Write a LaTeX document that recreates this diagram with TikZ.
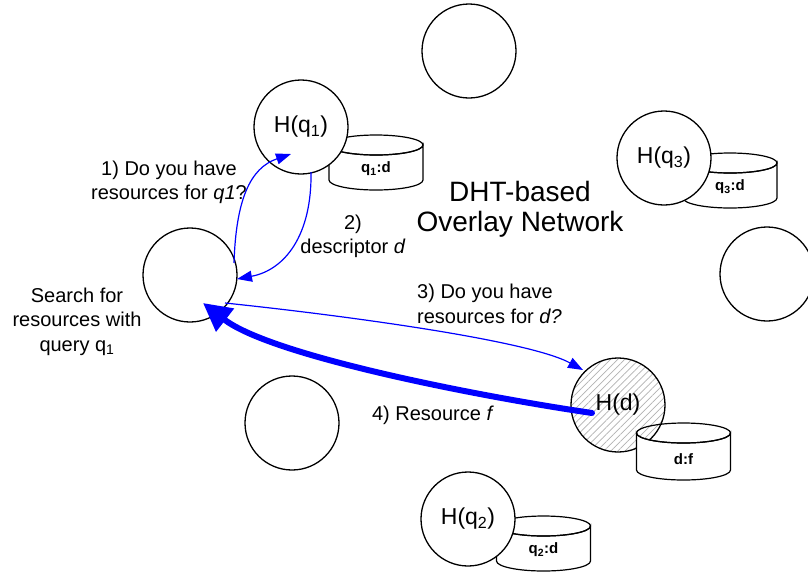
\documentclass[tikz,border=0pt]{standalone}
\usepackage{fontspec}
\setmainfont{Liberation Sans}
\usetikzlibrary{arrows.meta,patterns.meta,calc}
\newcommand\dbcyl[5]{%
  \path[cyl] (#1-47,#2) -- (#1-47,#3) arc[start angle=180,end angle=0,x radius=47,y radius=10]
     -- (#1+47,#2) arc[start angle=0,end angle=180,x radius=47,y radius=10] -- cycle;
  \draw[line width=1.2pt] (#1,#2) ellipse[x radius=47,y radius=10];
  \node[cyllbl] (#5) at (#1,#3-11) {#4};}
\begin{document}
\begin{tikzpicture}[x=1pt,y=-1pt,
  peer/.style={circle,draw,line width=1.3pt,fill=white,minimum size=94pt,inner sep=0pt,font=\fontsize{23}{26}\selectfont},
  lbl/.style={inner sep=0pt,align=center,font=\fontsize{20}{24.5}\selectfont},
  cyl/.style={draw,line width=1.2pt,fill=white},
  cyllbl/.style={inner sep=0pt,font=\fontsize{15}{18}\selectfont\bfseries},
  query/.style={draw=blue,line width=1.2pt,-{Triangle[length=15pt,width=11pt]}},
  reply/.style={draw=blue,line width=6pt,line cap=round,-{Triangle[length=28pt,width=28pt]}}]
\useasboundingbox (0,0) rectangle (808,574);
% storage cylinders behind the peers
\dbcyl{376}{145}{180}{q\textsubscript{1}:d}{c1}
\dbcyl{730}{163}{198}{q\textsubscript{3}:d}{c3}
\dbcyl{543.5}{526}{561}{q\textsubscript{2}:d}{c2}
% peers
\node[peer] (T) at (469,51) {};
\node[peer] (Hq1) at (301,127) {H(q\textsubscript{1})};
\node[peer] (Hq3) at (664,158) {H(q\textsubscript{3})};
\node[peer] (S) at (190,275) {};
\node[peer] (R) at (767,274) {};
\node[peer] (E) at (292,423) {};
\node[peer] (Hq2) at (468,519) {H(q\textsubscript{2})};
\node[peer,preaction={fill=white},pattern={Lines[angle=45,distance=5pt,line width=0.7pt]},pattern color=gray!60] (Hd) at (618,405) {H(d)};
\dbcyl{683.5}{433}{470}{d:f}{cf}
% labels
\node[inner sep=0pt,align=center,font=\fontsize{28}{30}\selectfont] (net) at (520,209) {DHT-based\\Overlay Network};
\node[lbl] (l1) at (169,182.5) {1) Do you have\\resources for \textit{q1}?};
\node[lbl] (l2) at (353,236.5) {2)\\descriptor \textit{d}};
\node[lbl] (ls) at (77,321.7) {Search for\\resources with\\query q\textsubscript{1}};
\node[lbl,align=left,anchor=west] (l3) at (417,304) {3) Do you have\\resources for \textit{d?}};
\node[lbl] (l4) at (433,415) {4) Resource \textit{f}};
% messages
\draw[query] ($(S)+(44,-12)$) .. controls ($(S)+(46,-75)$) and ($(Hq1)+(-51,41)$) .. ($(Hq1)+(-10,27)$);
\draw[query] ($(Hq1)+(10,45)$) .. controls ($(Hq1)+(11,108)$) and ($(S)+(95,-5)$) .. ($(S)+(47,4)$);
\draw[query] ($(S)+(35,28)$) .. controls ($(S)+(150,40)$) and ($(Hd)+(-90,-65)$) .. ($(Hd)+(-35,-35)$);
\draw[reply] ($(Hd)+(-26,8)$) .. controls ($(Hd)+(-148,-10)$) and ($(S)+(80,80)$) .. ($(S)+(13,28)$);
\end{tikzpicture}
\end{document}
